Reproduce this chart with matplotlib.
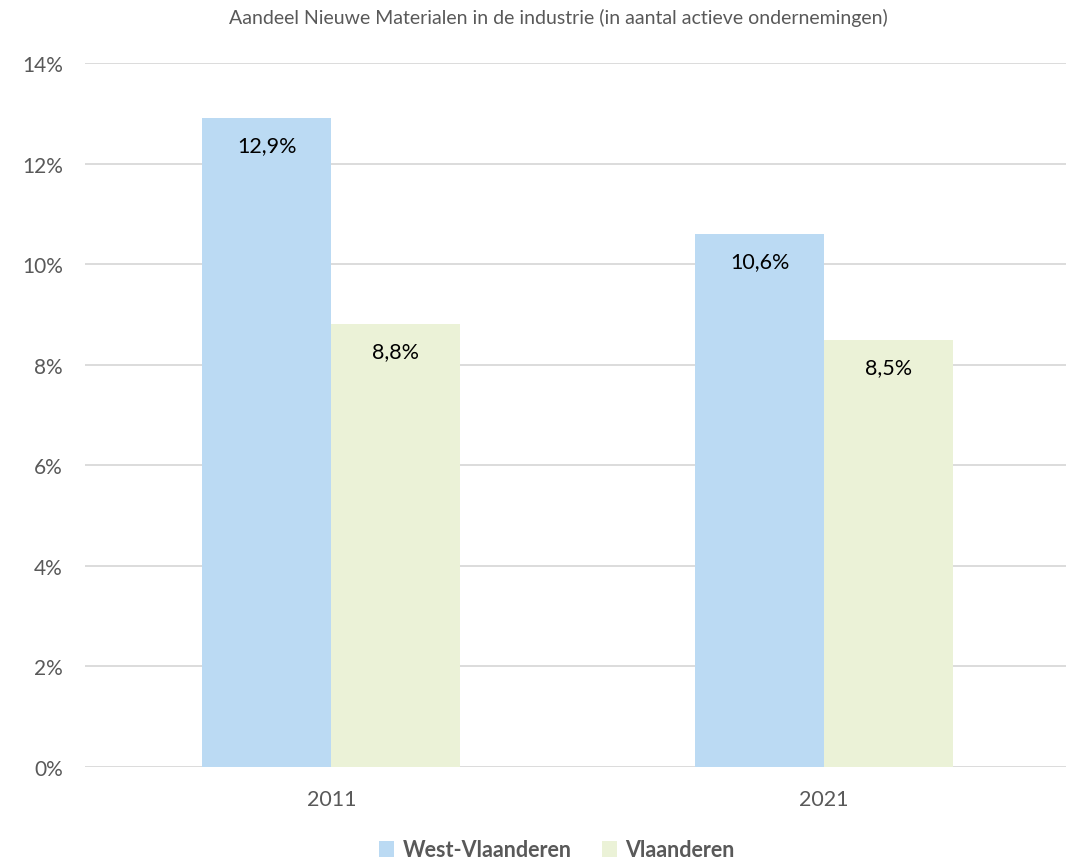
import matplotlib
matplotlib.use("Agg")
import matplotlib.pyplot as plt
from matplotlib.patches import Patch
import numpy as np

years = ["2011", "2021"]
series_names = ["West-Vlaanderen", "Vlaanderen"]
west_vl = [12.9, 10.6]
vlaanderen = [8.8, 8.5]
y_ticks = [0, 2, 4, 6, 8, 10, 12, 14]
title = "Aandeel Nieuwe Materialen in de industrie (in aantal actieve ondernemingen)"

colors = ["#BBDAF3", "#EBF2D7"]
grey = "#595959"
plt.rcParams['font.family'] = ['Lato', 'DejaVu Sans']

W, H = 1066, 862
fig = plt.figure(figsize=(W / 100, H / 100), dpi=100)
left, right, top, bottom = 85, 1066, 64, 768
ax = fig.add_axes([left / W, 1 - bottom / H, (right - left) / W, (bottom - top) / H])

x = np.arange(len(years))
bw = 0.262
b1 = ax.bar(x - bw / 2, west_vl, bw, color=colors[0], zorder=3)
b2 = ax.bar(x + bw / 2, vlaanderen, bw, color=colors[1], zorder=3)

for bars, vals in ((b1, west_vl), (b2, vlaanderen)):
    for r, v in zip(bars, vals):
        ax.annotate(f"{v:.1f}%".replace(".", ","),
                    (r.get_x() + r.get_width() / 2, v),
                    xytext=(0, -19.5), textcoords="offset points",
                    ha="center", va="center", fontsize=15.5, color="black", zorder=4)

ax.set_ylim(0, 14)
ax.set_xlim(-0.5, 1 + (1066 - 824) / 493)
ax.set_yticks(y_ticks)
ax.set_yticklabels([f"{t}%" for t in y_ticks], fontsize=15, color=grey)
ax.set_xticks(x)
ax.set_xticklabels(years, fontsize=15.5, color=grey)
ax.tick_params(axis="y", length=0, pad=16)
ax.tick_params(axis="x", length=0, pad=16)
ax.grid(axis="y", color="#D9D9D9", linewidth=1.3, zorder=0)
for s in ax.spines.values():
    s.set_visible(False)

fig.text(558 / W, 1 - 18 / H, title, ha="center", va="center", fontsize=14, color=grey)

handles = [Patch(facecolor=c, edgecolor="none") for c in colors]
leg = fig.legend(handles, series_names, loc="center", bbox_to_anchor=(557 / W, 1 - 851 / H),
                 ncol=2, frameon=False, handlelength=0.7, handleheight=0.7,
                 handletextpad=0.4, columnspacing=1.4,
                 prop={"weight": "bold", "size": 15.5})
for t in leg.get_texts():
    t.set_color(grey)

fig.savefig("out.png", dpi=100)
